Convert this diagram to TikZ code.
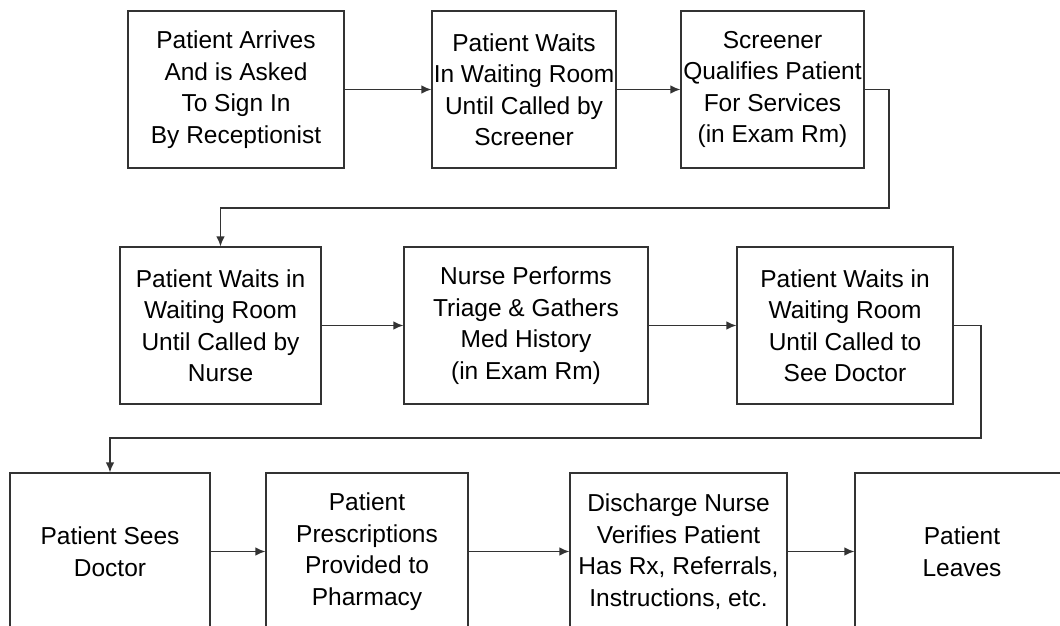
\documentclass[tikz,border=0pt]{standalone}
\usepackage{fontspec}
\setmainfont{Liberation Sans}
\usetikzlibrary{arrows.meta}
\definecolor{linec}{HTML}{333333}
\begin{document}
\begin{tikzpicture}[x=1pt,y=-1pt,
 box/.style={draw=linec, line width=1.3pt, fill=white, align=center, inner sep=0pt,
   font=\fontsize{24.5}{31.5}\selectfont},
 arr/.style={draw=linec, line width=1.3pt, -{Latex[length=10pt,width=8.5pt]}}]
\useasboundingbox (0,0) rectangle (1060,626);
\clip (0,0) rectangle (1060,626);
% row 1
\node[box, minimum width=216pt, minimum height=157pt] (b1) at (236,89.5) {Patient Arrives\\And is Asked\\To Sign In\\By Receptionist};
\node[box, minimum width=184pt, minimum height=157pt] (b2) at (524,89.5) {Patient Waits\\In W\kern-0.6pt aiting Room\\Until Called by\\Screener};
\node[box, minimum width=183pt, minimum height=157pt] (b3) at (772.5,89.5) {Screener\\Qualifies Patient\\For Services\\(in Exam Rm)};
% row 2
\node[box, minimum width=201pt, minimum height=157pt] (b4) at (220.5,325.5) {Patient Waits in\\Waiting Room\\Until Called by\\Nurse};
\node[box, minimum width=244pt, minimum height=157pt] (b5) at (526,325.5) {Nurse Performs\\Triage \& Gathers\\Med History\\(in Exam Rm)};
\node[box, minimum width=216pt, minimum height=157pt] (b6) at (845,325.5) {Patient Waits in\\Waiting Room\\Until Called to\\See Doctor};
% row 3
\node[box, minimum width=200pt, minimum height=157pt] (b7) at (110,551.5) {Patient Sees\\Doctor};
\node[box, minimum width=202pt, minimum height=157pt] (b8) at (367,551.5) {Patient\\Prescriptions\\Provided to\\Pharmacy};
\node[box, minimum width=217pt, minimum height=157pt] (b9) at (678.5,551.5) {Discharge Nurse\\Verifies Patient\\Has Rx, Referrals,\\Instructions, etc.};
\node[box, minimum width=214pt, minimum height=157pt] (b10) at (962,551.5) {Patient\\Leaves};
% connectors
\coordinate (r1) at (889,208);
\coordinate (r2) at (981,438);
\draw[arr] (b1.east) -- (b2.west);
\draw[arr] (b2.east) -- (b3.west);
\draw[arr] (b3.east) -| (r1) -| (b4.north);
\draw[arr] (b4.east) -- (b5.west);
\draw[arr] (b5.east) -- (b6.west);
\draw[arr] (b6.east) -| (r2) -| (b7.north);
\draw[arr] (b7.east) -- (b8.west);
\draw[arr] (b8.east) -- (b9.west);
\draw[arr] (b9.east) -- (b10.west);
\end{tikzpicture}
\end{document}
